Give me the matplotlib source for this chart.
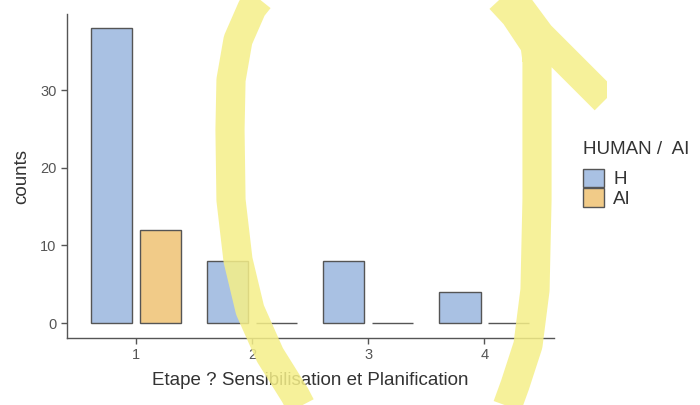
import numpy as np
import matplotlib
matplotlib.use("Agg")
import matplotlib.pyplot as plt
from matplotlib.lines import Line2D
from matplotlib.patches import Patch, Rectangle

plt.rcParams["font.family"] = ["Liberation Sans", "DejaVu Sans"]

# data
etapes = [1, 2, 3, 4]
counts_h = [38, 8, 8, 4]
counts_ai = [12, 0, 0, 0]
groups = ["H", "AI"]
colors = {"H": "#A9C1E3", "AI": "#F1CB88"}

fig = plt.figure(figsize=(7, 4.05), dpi=100)
ax = fig.add_axes([67 / 700, 1 - 338 / 405, (554 - 67) / 700, (338 - 14) / 405])

x = np.array(etapes, dtype=float)
w = 0.355
off = 0.21
ax.bar(x - off, counts_h, width=w, color=colors["H"], edgecolor="#555555", linewidth=1.0)
ax.bar(x + off, counts_ai, width=w, color=colors["AI"], edgecolor="#555555", linewidth=1.0)

ax.set_xlim(0.405, 4.6)
ax.set_ylim(-1.93, 39.8)
ax.set_xticks(etapes)
ax.set_xticklabels([str(e) for e in etapes])
ax.set_yticks([0, 10, 20, 30])

for s in ["top", "right"]:
    ax.spines[s].set_visible(False)
for s in ["left", "bottom"]:
    ax.spines[s].set_color("#555555")
    ax.spines[s].set_linewidth(1.0)
ax.tick_params(colors="#555555", labelcolor="#555555", labelsize=10.5, length=4, width=1.0)

ax.set_xlabel("Etape ? Sensibilisation et Planification", fontsize=13.5, color="#333333", labelpad=7)
ax.set_ylabel("counts", fontsize=13.5, color="#333333", labelpad=7)

# legend: title as separate text so the gap matches
fig.text(583 / 700, 1 - 150 / 405, "HUMAN /  AI", fontsize=13.5, color="#333333",
         ha="left", va="center")
handles = [Patch(facecolor=colors[g], edgecolor="#555555", linewidth=1.0, label=g) for g in groups]
leg = fig.legend(handles=handles, loc="upper left",
                 bbox_to_anchor=(583 / 700, 1 - 169 / 405), frameon=False,
                 fontsize=13.5, handlelength=1.12, handleheight=1.12,
                 labelspacing=0.0, handletextpad=0.5, borderaxespad=0, borderpad=0)
for t in leg.get_texts():
    t.set_color("#333333")

# yellow highlighter stroke drawn over the picture (pixel coords of the figure)
left = [(268, -12), (252, 8), (238, 40), (231, 80), (230, 130), (231, 200),
        (238, 260), (250, 310), (270, 355), (295, 395), (307, 418)]
right = [(537, 30), (537, 100), (537, 200), (535, 290), (528, 345), (515, 385), (503, 418)]
top1 = [(505, -12), (520, 8), (540, 35), (570, 65), (605, 100)]
top2 = [(490, -12), (515, 15), (535, 45), (537, 60)]
pts = []
for seg in [left, right, top1, top2]:
    pts += seg + [(np.nan, np.nan)]
arr = np.array(pts, dtype=float)
clip = Rectangle((0, 0), 607 / 700, 1, transform=fig.transFigure, visible=False)
fig.add_artist(clip)
ln = Line2D(arr[:, 0] / 700, 1 - arr[:, 1] / 405, color="#F5EF88", alpha=0.85,
            linewidth=21, solid_capstyle="butt", solid_joinstyle="round",
            transform=fig.transFigure)
ln.set_clip_path(clip)
fig.add_artist(ln)

fig.savefig("out.png", dpi=100)
